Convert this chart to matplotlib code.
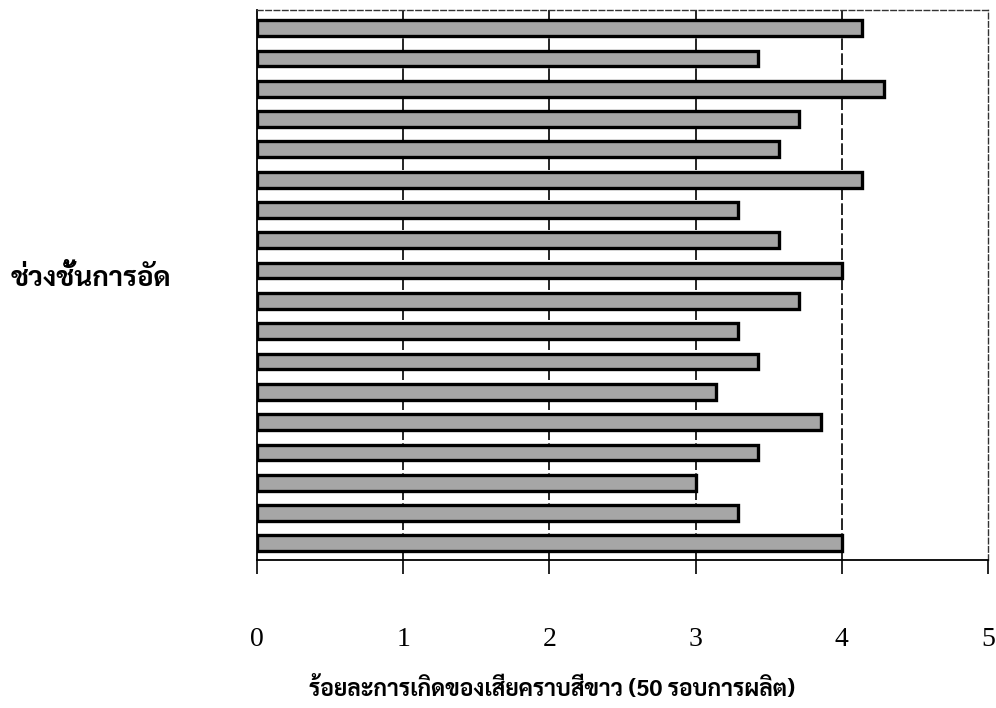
import matplotlib
matplotlib.use('Agg')
import matplotlib.pyplot as plt
from matplotlib import font_manager

# ค่าจากกราฟ (จากบนลงล่าง)
values = [4.14, 3.43, 4.29, 3.71, 3.57, 4.14, 3.29, 3.57, 4.00,
          3.71, 3.29, 3.43, 3.14, 3.86, 3.43, 3.00, 3.29, 4.00]
xticks = [0, 1, 2, 3, 4, 5]
ylabel = "ช่วงชั้นการอัด"
xlabel = "ร้อยละการเกิดของเสียคราบสีขาว (50 รอบการผลิต)"

# เลือกฟอนต์ไทยที่มีในเครื่อง
installed = {f.name for f in font_manager.fontManager.ttflist}
thai_font = 'DejaVu Sans'
for name in ['Sarabun', 'Noto Sans Thai Looped', 'Noto Serif Thai', 'Taviraj',
             'Trirong', 'Noto Sans Thai', 'Athiti']:
    if name in installed:
        thai_font = name
        break

fig = plt.figure(figsize=(9.96, 7.08), dpi=100)
ax = fig.add_axes([0.258, 0.209, 0.734, 0.777])

pos = list(range(len(values)))
ax.barh(pos, values, height=0.52, color='#a6a6a6', edgecolor='black', linewidth=2.4, zorder=3)

ax.set_xlim(0, 5)
ax.set_ylim(17.55, -0.6)
ax.set_xticks(xticks)
ax.set_xticklabels([str(t) for t in xticks], family='Liberation Serif', fontsize=20)
ax.set_yticks([])
ax.tick_params(axis='x', direction='out', length=10, width=1.2, pad=38)

for x in xticks[1:-1]:
    ax.axvline(x, color='black', linestyle=(0, (7, 2)), linewidth=1.2, zorder=1)

for side in ['top', 'right']:
    ax.spines[side].set_linestyle((0, (4, 2)))
    ax.spines[side].set_linewidth(1.0)
    ax.spines[side].set_color('#333333')
ax.spines['left'].set_linewidth(1.3)
ax.spines['bottom'].set_linewidth(1.3)

fig.text(0.091, 0.607, ylabel, family=thai_font, fontsize=20, fontweight='bold',
         ha='center', va='center')
fig.text(0.554, 0.027, xlabel, family=thai_font, fontsize=16.5, fontweight='bold',
         ha='center', va='center')

fig.savefig('out.png', dpi=100)
